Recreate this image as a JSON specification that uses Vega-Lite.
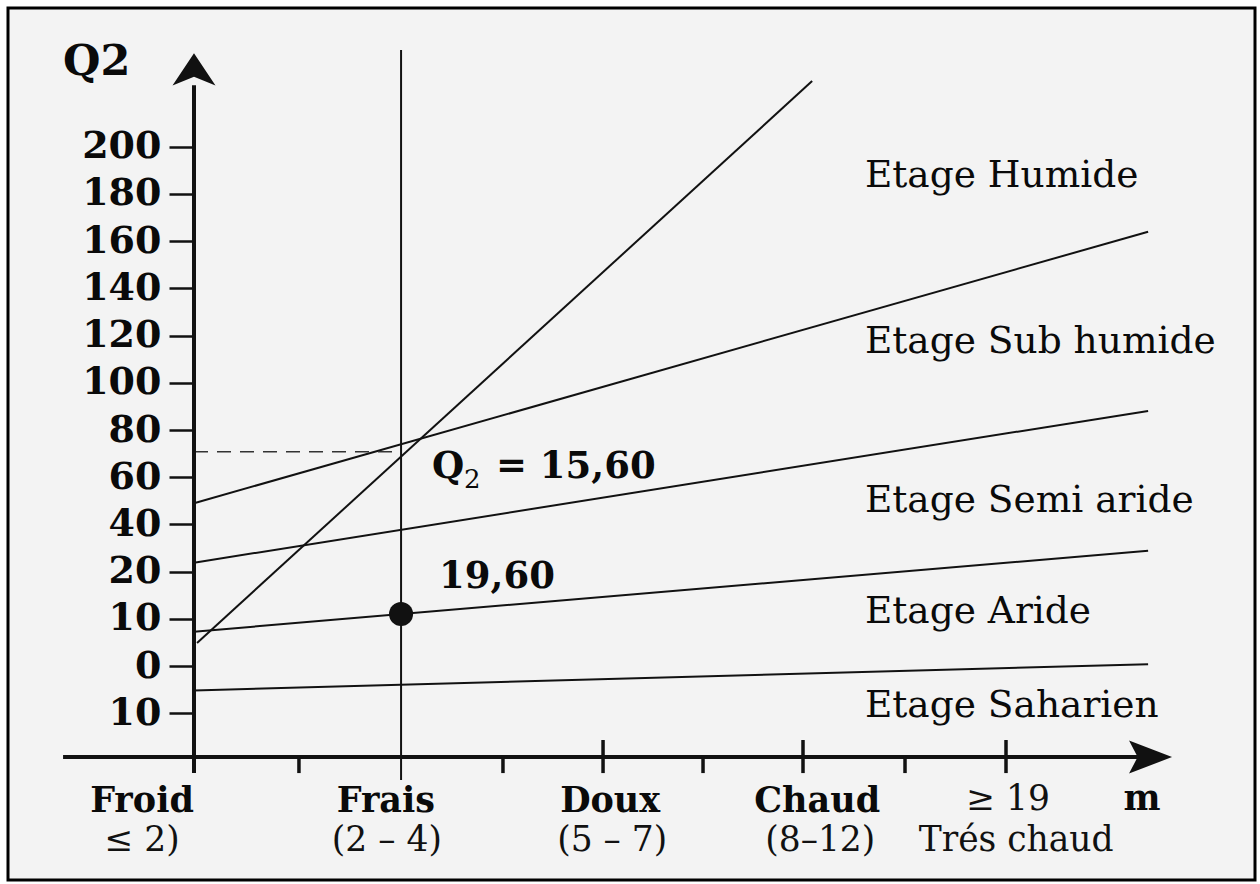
{
  "$schema": "https://vega.github.io/schema/vega-lite/v6.json",
  "width": 1247,
  "height": 872,
  "autosize": {"type": "none"},
  "padding": {"left": 8, "top": 8, "right": 5, "bottom": 4},
  "background": "white",
  "view": {"stroke": "#000", "strokeWidth": 3, "fill": "#f3f3f3"},
  "datasets": {
    "limits": [
      {"name": "humide_steep", "x": 0.03, "y": -10.2, "x2": 6.09, "y2": 227.8},
      {"name": "humide", "x": 0, "y": 49.0, "x2": 9.4, "y2": 164.0},
      {"name": "subhumide", "x": 0, "y": 23.8, "x2": 9.4, "y2": 88.1},
      {"name": "semiaride", "x": 0, "y": -5.4, "x2": 9.4, "y2": 28.9},
      {"name": "aride", "x": 0, "y": -30.3, "x2": 9.4, "y2": -19.2},
      {"name": "frais", "x": 2.04, "y": -68.2, "x2": 2.04, "y2": 241.0}
    ],
    "dashed": [
      {"x": 0, "y": 70.8, "x2": 2.04, "y2": 70.8}
    ],
    "axes": [
      {"name": "m", "x": -1.29, "y": -58.5, "x2": 9.3, "y2": -58.5},
      {"name": "Q2", "x": 0, "y": -65.3, "x2": 0, "y2": 226}
    ],
    "ticks": [
      {"x": 1.034, "y": -58.5, "x2": 1.034, "y2": -65.3},
      {"x": 3.044, "y": -58.5, "x2": 3.044, "y2": -65.3},
      {"x": 5.015, "y": -58.5, "x2": 5.015, "y2": -65.3},
      {"x": 7.005, "y": -58.5, "x2": 7.005, "y2": -65.3},
      {"x": 4.03, "y": -51.3, "x2": 4.03, "y2": -65.3},
      {"x": 6.0, "y": -51.3, "x2": 6.0, "y2": -65.3},
      {"x": 8.0, "y": -51.3, "x2": 8.0, "y2": -65.3}
    ],
    "station": [{"x": 2.04, "y": 2.1}],
    "arrow_up": [{"x": 0, "y": 232.8}],
    "arrow_right": [{"x": 9.424, "y": -58.5}],
    "xlab_bold": [
      {"label": "Froid", "x": -0.512, "y": -81.6},
      {"label": "Frais", "x": 1.89, "y": -81.6},
      {"label": "Doux", "x": 4.1, "y": -81.6},
      {"label": "Chaud", "x": 6.14, "y": -81.6},
      {"label": "m", "x": 9.34, "y": -81.0}
    ],
    "xlab_reg": [
      {"label": "≤ 2)", "x": -0.512, "y": -98.3},
      {"label": "(2 – 4)", "x": 1.9, "y": -98.3},
      {"label": "(5 – 7)", "x": 4.12, "y": -98.3},
      {"label": "(8–12)", "x": 6.17, "y": -98.3},
      {"label": "≥ 19", "x": 8.02, "y": -81.0},
      {"label": "Trés chaud", "x": 8.1, "y": -98.3}
    ],
    "etages": [
      {"label": "Etage Humide", "x": 6.61, "y": 183.1},
      {"label": "Etage Sub humide", "x": 6.61, "y": 112.6},
      {"label": "Etage Semi aride", "x": 6.61, "y": 45.4},
      {"label": "Etage Aride", "x": 6.61, "y": -1.9},
      {"label": "Etage Saharien", "x": 6.61, "y": -41.4}
    ],
    "notes": [
      {"label": "Q", "x": 2.345, "y": 59.5},
      {"label": "= 15,60", "x": 2.975, "y": 59.5},
      {"label": "19,60", "x": 2.414, "y": 13.0}
    ],
    "subscript": [
      {"label": "2", "x": 2.66, "y": 55.6}
    ],
    "ytitle": [
      {"label": "Q2", "x": -1.29, "y": 230.4}
    ]
  },
  "encoding": {
    "x": {
      "field": "x",
      "type": "quantitative",
      "scale": {"domain": [-1.8325, 10.4532], "nice": false, "zero": false},
      "axis": null
    },
    "y": {
      "field": "y",
      "type": "quantitative",
      "scale": {"domain": [-110.59, 258.75], "nice": false, "zero": false},
      "axis": {
        "orient": "left",
        "offset": -186,
        "values": [200, 180, 160, 140, 120, 100, 80, 60, 40, 20, 0, -20, -40],
        "labelExpr": "datum.value == 0 ? '10' : datum.value == -20 ? '0' : datum.value == -40 ? '10' : datum.label",
        "domain": false,
        "grid": false,
        "title": null,
        "tickSize": 25,
        "tickWidth": 2.5,
        "tickColor": "#111",
        "labelFont": "DejaVu Serif",
        "labelFontWeight": "bold",
        "labelFontSize": 38,
        "labelColor": "#0a0a0a",
        "labelPadding": 8,
        "labelFlush": false,
        "labelOverlap": false,
        "labelBound": false
      }
    }
  },
  "layer": [
    {
      "data": {"name": "limits"},
      "mark": {"type": "rule", "strokeWidth": 2, "color": "#111"},
      "encoding": {"x2": {"field": "x2"}, "y2": {"field": "y2"}}
    },
    {
      "data": {"name": "dashed"},
      "mark": {"type": "rule", "strokeWidth": 1.6, "color": "#333", "strokeDash": [14, 9]},
      "encoding": {"x2": {"field": "x2"}, "y2": {"field": "y2"}}
    },
    {
      "data": {"name": "axes"},
      "mark": {"type": "rule", "strokeWidth": 4, "color": "#111"},
      "encoding": {"x2": {"field": "x2"}, "y2": {"field": "y2"}}
    },
    {
      "data": {"name": "ticks"},
      "mark": {"type": "rule", "strokeWidth": 3.5, "color": "#111"},
      "encoding": {"x2": {"field": "x2"}, "y2": {"field": "y2"}}
    },
    {
      "data": {"name": "station"},
      "mark": {"type": "point", "shape": "circle", "filled": true, "size": 580, "color": "#111", "opacity": 1}
    },
    {
      "data": {"name": "arrow_up"},
      "mark": {"type": "point", "shape": "M0,-0.75L-1,0.75L0,0.35L1,0.75Z", "filled": true, "size": 1849, "color": "#111", "opacity": 1}
    },
    {
      "data": {"name": "arrow_right"},
      "mark": {"type": "point", "shape": "M1,0L-1,-0.77L-0.6,0L-1,0.77Z", "filled": true, "size": 1849, "color": "#111", "opacity": 1}
    },
    {
      "data": {"name": "xlab_bold"},
      "mark": {"type": "text", "font": "DejaVu Serif", "fontWeight": "bold", "fontSize": 35, "align": "center", "baseline": "alphabetic", "color": "#0a0a0a"},
      "encoding": {"text": {"field": "label"}}
    },
    {
      "data": {"name": "xlab_reg"},
      "mark": {"type": "text", "font": "DejaVu Serif", "fontSize": 34.5, "align": "center", "baseline": "alphabetic", "color": "#111"},
      "encoding": {"text": {"field": "label"}}
    },
    {
      "data": {"name": "etages"},
      "mark": {"type": "text", "font": "DejaVu Serif", "fontSize": 37.5, "align": "left", "baseline": "alphabetic", "color": "#0a0a0a"},
      "encoding": {"text": {"field": "label"}}
    },
    {
      "data": {"name": "notes"},
      "mark": {"type": "text", "font": "DejaVu Serif", "fontWeight": "bold", "fontSize": 37, "align": "left", "baseline": "alphabetic", "color": "#0a0a0a"},
      "encoding": {"text": {"field": "label"}}
    },
    {
      "data": {"name": "subscript"},
      "mark": {"type": "text", "font": "DejaVu Serif", "fontSize": 26, "align": "left", "baseline": "alphabetic", "color": "#0a0a0a"},
      "encoding": {"text": {"field": "label"}}
    },
    {
      "data": {"name": "ytitle"},
      "mark": {"type": "text", "font": "DejaVu Serif", "fontWeight": "bold", "fontSize": 43, "align": "left", "baseline": "alphabetic", "color": "#0a0a0a"},
      "encoding": {"text": {"field": "label"}}
    }
  ]
}
